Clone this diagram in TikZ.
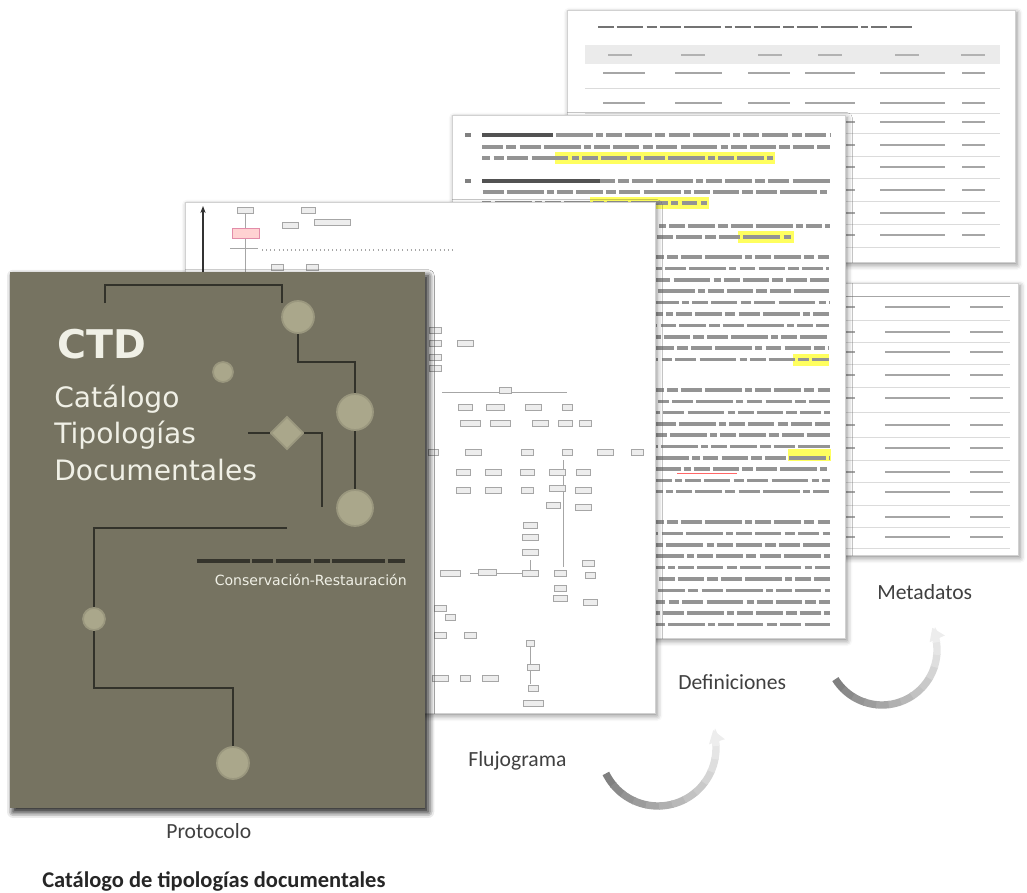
\documentclass[tikz,border=0pt]{standalone}
\usepackage{fontspec}
\newfontfamily\calibri{Carlito}
\newfontfamily\coverfont{DejaVu Sans}
\usetikzlibrary{shapes.geometric,shadows.blur,arrows.meta}
\definecolor{coverbg}{RGB}{118,115,97}
\definecolor{coverdot}{RGB}{170,167,139}
\definecolor{coverwire}{RGB}{50,50,42}
\definecolor{covertext}{RGB}{240,240,230}
\definecolor{hilite}{RGB}{255,255,95}
\tikzset{
	page/.style={
		draw=black!18,
		fill=white,
		inner sep=0pt,
		blur shadow={shadow xshift=1.2pt, shadow yshift=-1.6pt,
			shadow blur radius=3pt, shadow opacity=45}
	},
	cover/.style={
		page,
		draw=none,
		fill=coverbg,
		blur shadow={shadow xshift=1.8pt, shadow yshift=-2.2pt,
			shadow blur radius=3.5pt, shadow opacity=60}
	},
	txtline/.style={% blurred line of body text
		line width=2pt,
		draw=black!42,
		dash pattern=on 9pt off 1.8pt on 15pt off 1.8pt on 6pt off 1.8pt on 12pt off 1.8pt on 21pt off 1.8pt on 4pt off 1.8pt
	},
	cellline/.style={line width=1.1pt, draw=black!35},
	rowrule/.style={line width=0.4pt, draw=black!14},
	flowbox/.style={draw=black!35, fill=black!7, line width=0.3pt},
	flowline/.style={draw=black!35, line width=0.35pt},
	wire/.style={draw=coverwire, line width=1.1pt},
	dot/.style={circle, fill=coverdot, draw=coverdot!70!coverbg, line width=1pt, inner sep=0pt},
	cover title/.style={font=\coverfont\bfseries\fontsize{22.5}{26}\selectfont,
		text=covertext, anchor=base west, inner sep=0pt},
	cover sub/.style={font=\coverfont\fontsize{16}{19}\selectfont,
		text=covertext, anchor=base west, inner sep=0pt},
	cover small/.style={font=\coverfont\fontsize{8}{10}\selectfont,
		text=covertext, inner sep=0pt},
	label/.style={font=\calibri\fontsize{12.3}{14}\selectfont,
		text=black!75, anchor=base west, inner sep=0pt},
	turn arrow/.style={line width=4.2pt}
}
\begin{document}
\begin{tikzpicture}[x=0.02cm,y=-0.02cm]
	\useasboundingbox (0,0) rectangle (1027,892);

	% metadatos, first sheet (back)
	\node[page, minimum width=8.96cm, minimum height=5.04cm] (meta) at (791,136) {};
	\draw[txtline, line width=1.3pt, draw=black!55] (598,27) -- (912,27);
	\fill[black!8] (585,45) rectangle (1000,64);
	\foreach \cx in {620,693,770,830,907,973}
		\draw[cellline, draw=black!30] (\cx-12,55) -- (\cx+12,55);
	\foreach \y in {88,113,133,156,178,201,224,247}
		\draw[rowrule] (585,\y) -- (1000,\y);
	\foreach \y in {73,103,122,145,167,190,213,235}
		\foreach \xa/\xb in {603/645,675/722,748/790,805/855,880/945,962/985}
			\draw[cellline] (\xa,\y) -- (\xb,\y);

	% metadatos, second sheet
	\node[page, minimum width=3.6cm, minimum height=5.44cm] (meta2) at (928,419) {};
	\draw[rowrule, draw=black!35] (845,296) -- (1010,296);
	\foreach \y in {320,342,364,387,412,437,460,482,505,527,548}
		\draw[rowrule] (845,\y) -- (1010,\y);
	\foreach \y in {307,332,352,375,398,425,448,472,492,517,537}
		\foreach \xa/\xb in {845/855,885/950,970/1003}
			\draw[cellline] (\xa,\y) -- (\xb,\y);

	% definiciones sheet
	\node[page, minimum width=7.86cm, minimum height=10.46cm] (defs) at (648.5,376.5) {};
	\fill[hilite] (555,152) rectangle (775,164);
	\fill[hilite] (590,197) rectangle (709,209);
	\fill[hilite] (738,231) rectangle (794,243);
	\fill[hilite] (793,354) rectangle (829,366);
	\fill[hilite] (788,449) rectangle (831,461);
	\foreach \y/\xe [count=\i] in {135/830,147/830,158/773,181/830,192/830,203/707,226/830,237/792}
		\draw[txtline, dash phase=\i*7pt] (482,\y) -- (\xe,\y);
	\draw[line width=2pt, draw=black!68] (482,135) -- (553,135);
	\draw[line width=2pt, draw=black!68] (482,181) -- (600,181);
	\draw[line width=2pt, draw=black!50] (465,135) -- (471,135);
	\draw[line width=2pt, draw=black!50] (465,181) -- (471,181);
	\foreach \k in {0,...,9} {
		\draw[txtline, dash phase=\k*9pt] (482,257+11.4*\k) -- (829,257+11.4*\k);
		\draw[txtline, dash phase=\k*5pt] (482,390+11.3*\k) -- (830,390+11.3*\k);
		\draw[txtline, dash phase=\k*11pt] (482,522+11.4*\k) -- (830,522+11.4*\k);
	}
	\draw[red!60, line width=0.5pt] (677,473) -- (737,473);

	% flujograma sheet
	\node[page, minimum width=9.4cm, minimum height=10.22cm] (flow) at (420,457.5) {};
	\draw[black!80, line width=1pt, -{Stealth[length=4pt]}] (203,272) -- (203,206);
	\draw[flowline] (245,212) -- (245,272);
	\draw[flowline] (230,248) -- (258,248);
	\draw[flowline, dotted, line width=0.8pt] (262,250) -- (455,250);
	\draw[flowline] (442,392) -- (567,392);
	\draw[flowline] (563,460) -- (563,567);
	\draw[flowline] (470,573) -- (530,573);
	\draw[flowline] (530,560) -- (530,573);
	\draw[flowline] (530,646) -- (530,684);
	\draw[draw=purple!45, fill=pink!70, line width=0.3pt] (232,228) rectangle (259,238);
	\foreach \x/\y/\w in {245/210/8,308/210/7,290/225/8,332/222/18,277/267/6,312/267/6,
		435/330/6,435/343/6,465/343/8,435/357/6,435/368/6,505/390/6,
		465/407/7,495/407/9,533/407/8,567/407/5,
		470/423/10,500/423/10,540/423/8,565/423/7,585/423/6,
		433/452/5,473/452/8,527/452/6,567/452/5,605/452/8,637/452/6,
		463/472/7,493/472/8,527/472/7,557/472/8,583/472/7,
		463/490/7,493/490/8,527/490/6,557/488/8,583/490/8,
		553/505/7,583/507/8,530/525/7,530/537/8,530/552/8,
		450/573/10,487/572/9,530/573/8,560/573/6,588/563/6,
		560/588/6,590/575/5,560/598/7,590/602/7,
		440/608/6,450/617/5,440/635/6,470/635/6,
		530/643/4,533/667/6,440/678/8,465/678/5,490/678/8,533/688/5,533/703/10}
		\draw[flowbox] (\x-\w,\y-3) rectangle (\x+\w,\y+3);

	% protocolo cover
	\node[cover, minimum width=8.3cm, minimum height=10.72cm] (cover) at (217.5,540) {};
	\node[dot, minimum size=0.4cm] (k0) at (223,372) {};
	\node[dot, minimum size=0.64cm] (k1) at (298,317) {};
	\node[dot, minimum size=0.72cm] (k2) at (355,412) {};
	\node[dot, minimum size=0.72cm] (k3) at (355,508) {};
	\node[dot, minimum size=0.44cm] (k4) at (94,619) {};
	\node[dot, minimum size=0.64cm] (k5) at (233,763) {};
	\node[dot, diamond, aspect=1, minimum size=0.66cm] (d1) at (287,433) {};
	\draw[wire] (105,303) |- (282,285) -- (282,303);
	\draw[wire] (k1.south) |- (355,362) -- (k2.north);
	\draw[wire] (k2.south) -- (k3.north);
	\draw[wire] (248,433) -- (d1.west);
	\draw[wire] (d1.east) -| (322,507);
	\draw[wire] (287,528) -| (k4.north);
	\draw[wire] (k4.south) |- (233,688) -- (k5.north);
	\node[cover title] (ctd) at (57,358) {CTD};
	\node[cover sub] (cat1) at (54,407) {Catálogo};
	\node[cover sub] (cat2) at (54,443) {Tipologías};
	\node[cover sub] (cat3) at (54,480) {Documentales};
	\draw[line width=2.4pt, draw=black!55!coverbg,
		dash pattern=on 30pt off 1.5pt on 12pt off 1.5pt on 20pt off 1.5pt on 9pt off 1.5pt] (197,561) -- (405,561);
	\node[cover small, anchor=base east] (rest) at (407,585) {Conservación-Restauración};

	% turning arrows
	\coordinate (a1c) at (658,748);
	\coordinate (a2c) at (882,650);
	\foreach \c/\r/\s in {a1c/1.16cm/206,a2c/1.1cm/212} {
		\foreach \i in {0,...,11} {
			\pgfmathsetmacro\sa{\s+13*\i}
			\pgfmathtruncatemacro\tint{50-3.6*\i}
			\draw[turn arrow, draw=black!\tint] ([shift={(\sa:\r)}]\c) arc[start angle=\sa, end angle=\sa+14, radius=\r];
		}
		\pgfmathsetmacro\ta{\s+156}
		\draw[turn arrow, draw=black!7, -{Triangle[width=9pt,length=7pt]}]
			([shift={(\ta:\r)}]\c) arc[start angle=\ta, end angle=\ta+16, radius=\r];
	}

	% labels
	\node[label] (lmeta) at (877,599) {Metadatos};
	\node[label] (ldefs) at (678,689) {Definiciones};
	\node[label] (lflow) at (468,766) {Flujograma};
	\node[label] (lprot) at (166,838) {Protocolo};
	\node[label, font=\calibri\bfseries\fontsize{12.8}{15}\selectfont, text=black!85] (title) at (42,887) {Catálogo de tipologías documentales};
\end{tikzpicture}
\end{document}
